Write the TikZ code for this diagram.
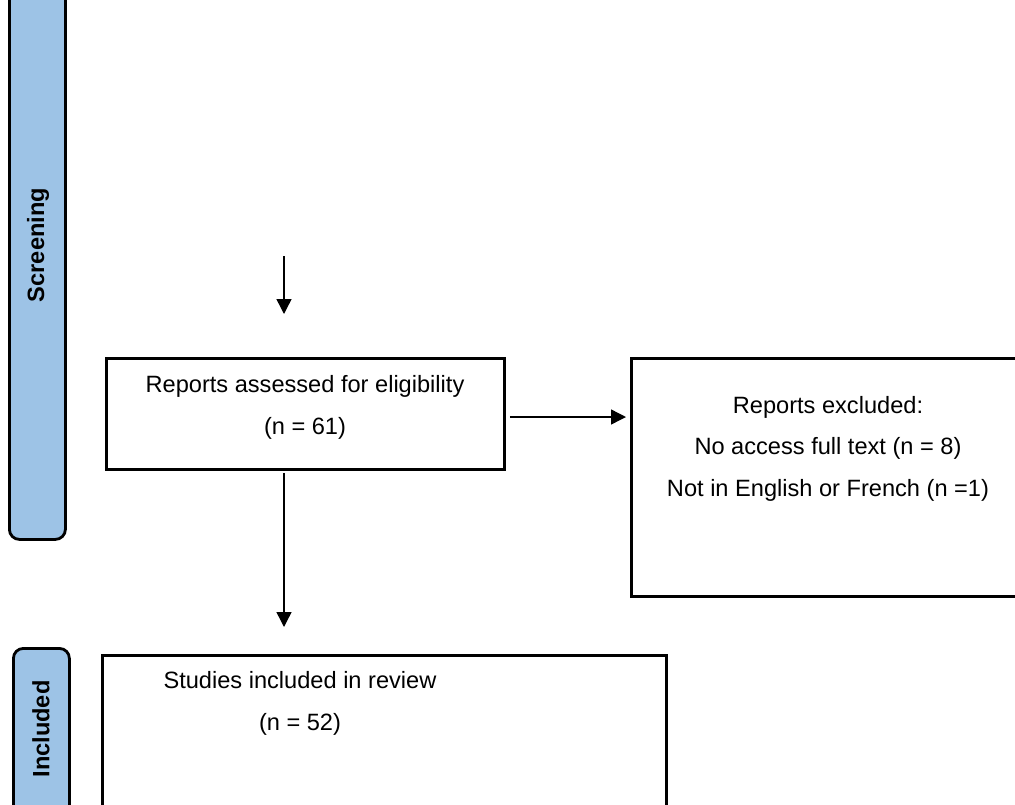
\documentclass[tikz,border=0pt]{standalone}
\usepackage{fontspec}
\setmainfont{Liberation Sans}
\usetikzlibrary{arrows.meta}
\definecolor{barblue}{RGB}{157,195,230}
\begin{document}
\begin{tikzpicture}[x=1pt,y=-1pt,
  box/.style={draw,line width=2.8pt,rectangle,inner sep=0,anchor=north west},
  bar/.style={draw,line width=2.8pt,fill=barblue,rounded corners=10pt,inner sep=0,anchor=north west},
  arr/.style={line width=1.4pt,-{Triangle[length=15pt,width=15pt]}},
  txt/.style={font=\fontsize{23.6}{41.5}\selectfont,inner sep=0,align=center},
  lbl/.style={font=\fontsize{23.6}{28}\selectfont\bfseries,inner sep=0,rotate=90}]
\useasboundingbox (0,0) rectangle (1015,804);
\clip (0,0) rectangle (1015,804);
% side bars
\node[bar,minimum width=56pt,minimum height=568pt] (scrbar) at (8,-30) {};
\node[lbl] (scrlbl) at (38,245) {Screening};
\node[bar,minimum width=56pt,minimum height=190pt] (incbar) at (12,647) {};
\node[lbl] (inclbl) at (41,729) {Included};
% boxes
\node[box,minimum width=398pt,minimum height=111pt] (b1) at (105,357) {};
\node[txt] (t1) at (305,407.5) {Reports assessed for eligibility\\(n = 61)};
\node[box,minimum width=400pt,minimum height=238pt] (b2) at (630,357) {};
\node[txt] (t2) at (828,448.5) {Reports excluded:\\No access full text (n = 8)\\Not in English or French (n =1)};
\node[box,minimum width=564pt,minimum height=190pt] (b3) at (101,654) {};
\node[txt] (t3) at (300,703.5) {Studies included in review\\(n = 52)};
% connectors
\coordinate (a1s) at (284,256);
\coordinate (a2y) at (0,417);
\draw[arr,shorten >=43pt] (a1s) -- (a1s |- b1.north);
\draw[arr,shorten <=4pt,shorten >=4pt] (b1.east |- a2y) -- (b2.west |- a2y);
\draw[arr,shorten <=2pt,shorten >=27pt] (b1.south -| a1s) -- (b3.north -| a1s);
\end{tikzpicture}
\end{document}
